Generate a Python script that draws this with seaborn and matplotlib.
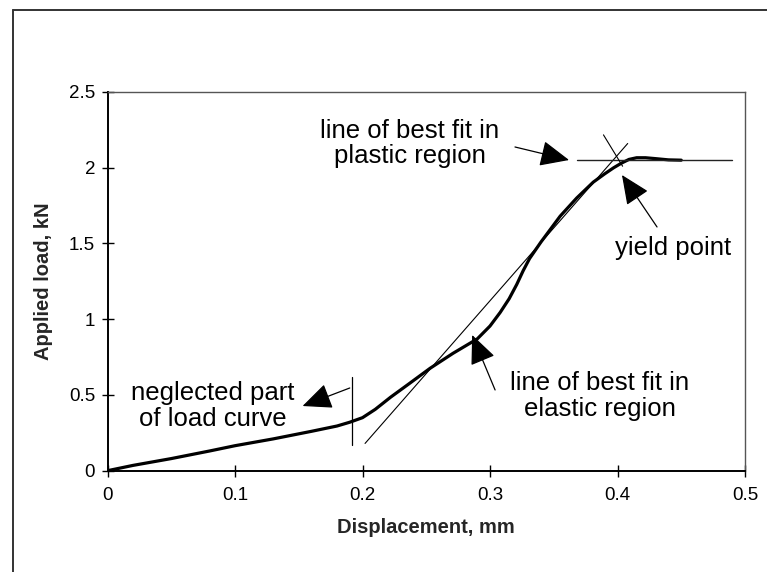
import matplotlib
matplotlib.use("Agg")
import matplotlib.pyplot as plt
from matplotlib.lines import Line2D
import seaborn as sns
import pandas as pd

# ---- data ----
disp = [0, 0.02, 0.05, 0.08, 0.10, 0.13, 0.16, 0.18, 0.19, 0.20, 0.21, 0.222,
        0.237, 0.253, 0.271, 0.28, 0.29, 0.30, 0.308, 0.315, 0.321, 0.326, 0.331,
        0.34, 0.355, 0.368, 0.381, 0.39, 0.397, 0.403, 0.409, 0.415, 0.422,
        0.43, 0.44, 0.45]
load = [0, 0.035, 0.08, 0.13, 0.165, 0.21, 0.26, 0.295, 0.32, 0.35, 0.405, 0.485,
        0.577, 0.676, 0.775, 0.82, 0.87, 0.955, 1.045, 1.135, 1.23, 1.32, 1.40,
        1.51, 1.68, 1.80, 1.905, 1.96, 2.0, 2.03, 2.055, 2.066, 2.066,
        2.06, 2.052, 2.05]

elastic_fit_x = [0.202, 0.408]
elastic_fit_y = [0.18, 2.16]
plastic_fit_x = [0.368, 0.49]
plastic_fit_y = [2.05, 2.05]
yield_mark_x = [0.389, 0.404]
yield_mark_y = [2.217, 2.01]
neglect_x = [0.1915, 0.1915]
neglect_y = [0.17, 0.62]

x_ticks = [0, 0.1, 0.2, 0.3, 0.4, 0.5]
x_tick_labels = ["0", "0.1", "0.2", "0.3", "0.4", "0.5"]
y_ticks = [0, 0.5, 1, 1.5, 2, 2.5]
y_tick_labels = ["0", "0.5", "1", "1.5", "2", "2.5"]

annotations = [
    # text, text position, arrow tail, arrow tip
    ("neglected part\nof load curve", (0.0827, 0.427), (0.190, 0.546), (0.153, 0.427)),
    ("line of best fit in\nplastic region", (0.237, 2.16), (0.3196, 2.137), (0.362, 2.051)),
    ("yield point", (0.4435, 1.47), (0.431, 1.609), (0.4035, 1.952)),
    ("line of best fit in\nelastic region", (0.386, 0.493), (0.304, 0.533), (0.286, 0.896)),
]

# ---- style ----
sns.set_style("white")
plt.rcParams["font.family"] = ["Liberation Sans", "DejaVu Sans"]

fig = plt.figure(figsize=(7.67, 5.72), dpi=100)
ax = fig.add_axes([107.5 / 767, 1 - 470.7 / 572, (745 - 107.5) / 767, (470.7 - 92) / 572])

curve = pd.DataFrame({"disp": disp, "load": load})
sns.lineplot(data=curve, x="disp", y="load", ax=ax, color="black", lw=2.3,
             estimator=None, sort=False)
sns.lineplot(x=elastic_fit_x, y=elastic_fit_y, ax=ax, color="black", lw=0.8,
             estimator=None, sort=False)
sns.lineplot(x=plastic_fit_x, y=plastic_fit_y, ax=ax, color="#222222", lw=1.0,
             estimator=None, sort=False)
sns.lineplot(x=yield_mark_x, y=yield_mark_y, ax=ax, color="black", lw=0.8,
             estimator=None, sort=False)
sns.lineplot(x=neglect_x, y=neglect_y, ax=ax, color="black", lw=0.9,
             estimator=None, sort=False)

for text, tpos, tail, tip in annotations:
    ax.text(tpos[0], tpos[1], text, ha="center", va="center",
            multialignment="center", fontsize=18.5, linespacing=1.1, color="black")
    ax.annotate("", xy=tip, xytext=tail,
                arrowprops=dict(arrowstyle="-|>,head_length=1.35,head_width=0.6",
                                mutation_scale=13.5, lw=0.9, color="black",
                                shrinkA=0, shrinkB=0))

ax.set_xlim(0, 0.5)
ax.set_ylim(0, 2.5)
ax.set_xticks(x_ticks)
ax.set_xticklabels(x_tick_labels)
ax.set_yticks(y_ticks)
ax.set_yticklabels(y_tick_labels)
ax.tick_params(axis="both", which="major", direction="inout", length=8, width=1,
               labelsize=13.5, colors="black", bottom=True, left=True, top=False, right=False)
ax.tick_params(axis="x", pad=8)
ax.tick_params(axis="y", pad=5)

ax.set_xlabel("Displacement, mm", fontsize=14.5, fontweight="bold", labelpad=10)
ax.set_ylabel("Applied load, kN", fontsize=14.5, fontweight="bold", labelpad=11)

for side in ["left", "bottom"]:
    ax.spines[side].set_color("black")
    ax.spines[side].set_linewidth(1.4)
for side in ["top", "right"]:
    ax.spines[side].set_color("#555555")
    ax.spines[side].set_linewidth(1.0)
    ax.spines[side].set_linestyle((0, (3, 1)))
    ax.spines[side].set_visible(True)

# outer frame of the chart area
fig.add_artist(Line2D([13 / 767, 13 / 767], [0, 1 - 10 / 572], transform=fig.transFigure,
                      color="#333333", lw=1.4))
fig.add_artist(Line2D([13 / 767, 1], [1 - 10 / 572, 1 - 10 / 572], transform=fig.transFigure,
                      color="#333333", lw=1.4))

fig.savefig("out.png", dpi=100)
